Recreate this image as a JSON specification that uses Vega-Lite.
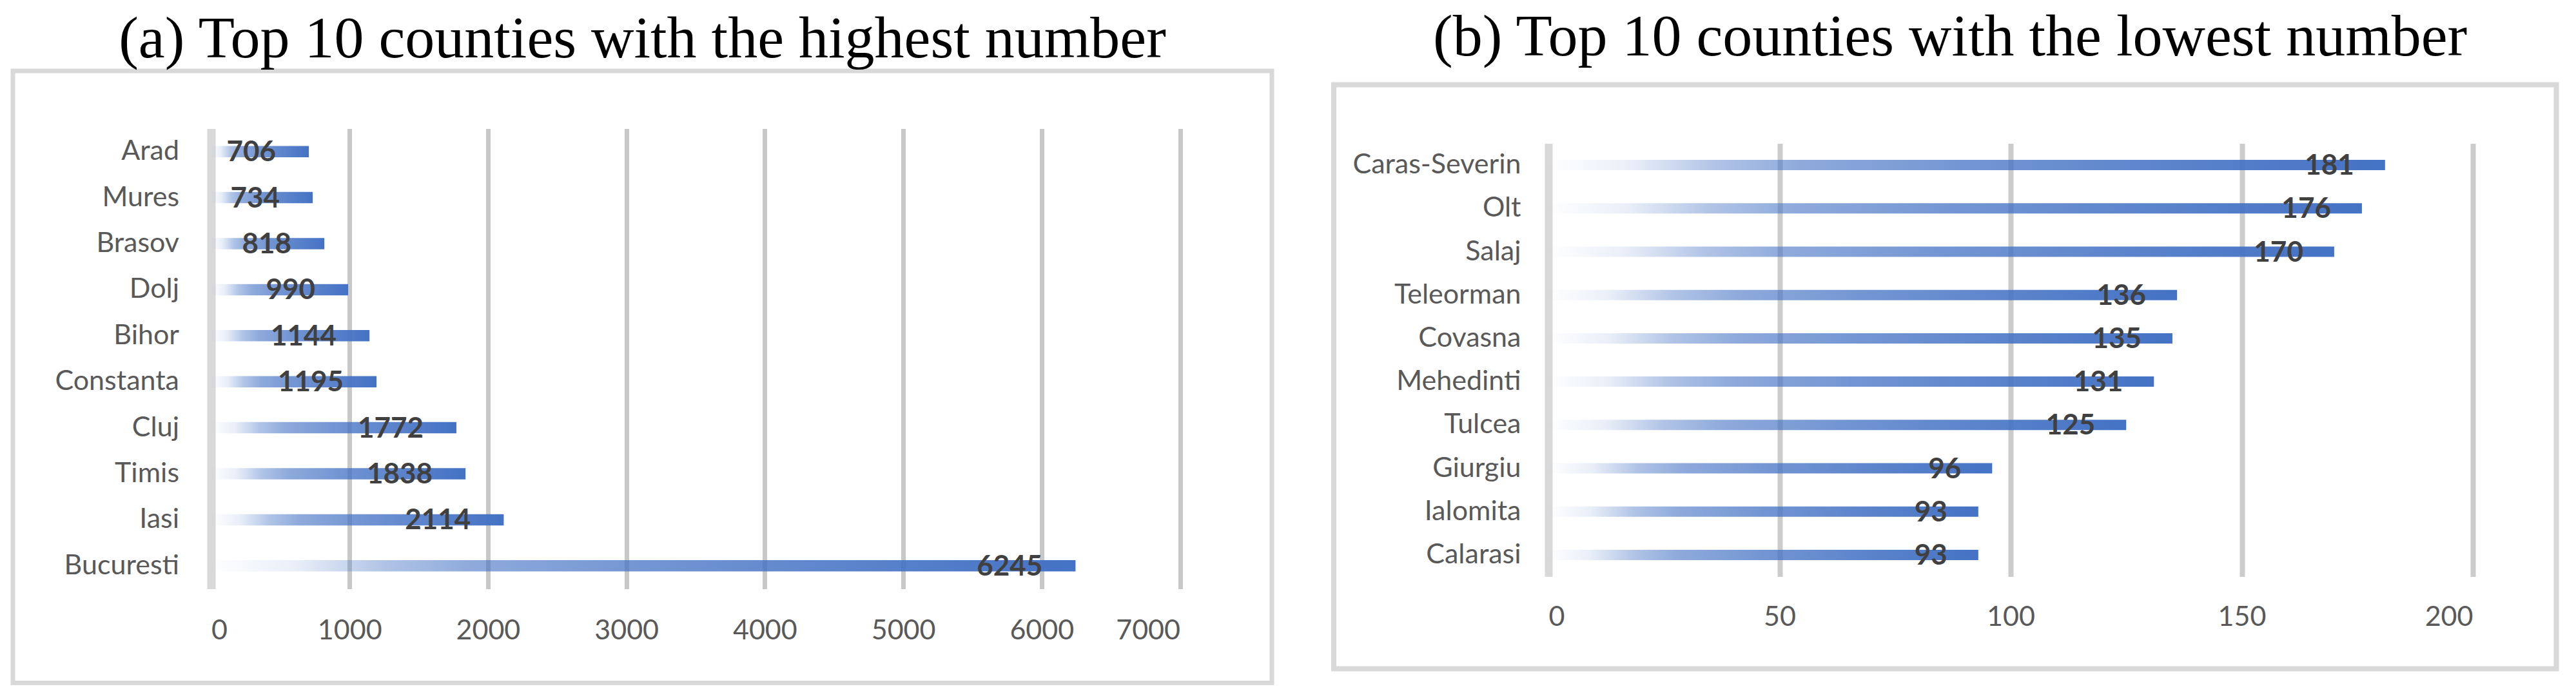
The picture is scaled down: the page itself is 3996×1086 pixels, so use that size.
{
  "$schema": "https://vega.github.io/schema/vega-lite/v6.json",
  "background": "white",
  "autosize": {"type": "pad"},
  "padding": {"left": 16, "top": 11, "right": 0, "bottom": 0},
  "spacing": 88,
  "datasets": {
    "top": [
      {"county": "Arad", "v": 706},
      {"county": "Mures", "v": 734},
      {"county": "Brasov", "v": 818},
      {"county": "Dolj", "v": 990},
      {"county": "Bihor", "v": 1144},
      {"county": "Constanta", "v": 1195},
      {"county": "Cluj", "v": 1772},
      {"county": "Timis", "v": 1838},
      {"county": "Iasi", "v": 2114},
      {"county": "Bucuresti", "v": 6245}
    ],
    "low": [
      {"county": "Caras-Severin", "v": 181},
      {"county": "Olt", "v": 176},
      {"county": "Salaj", "v": 170},
      {"county": "Teleorman", "v": 136},
      {"county": "Covasna", "v": 135},
      {"county": "Mehedinti", "v": 131},
      {"county": "Tulcea", "v": 125},
      {"county": "Giurgiu", "v": 96},
      {"county": "Ialomita", "v": 93},
      {"county": "Calarasi", "v": 93}
    ]
  },
  "hconcat": [
    {
      "width": 1953,
      "height": 949.5,
      "view": {"stroke": "#d9d9d9", "strokeWidth": 7, "fill": "white"},
      "title": {"text": "(a) Top 10 counties with the highest number", "font": "Liberation Serif", "fontSize": 92, "fontWeight": "normal", "color": "#000000", "anchor": "middle", "frame": "group", "offset": 2},
      "data": {"name": "top"},
      "encoding": {
        "y": {
          "field": "county", "type": "nominal", "sort": null,
          "scale": {"range": [89.5, 803.5], "paddingInner": 0.755, "paddingOuter": 0.3775},
          "axis": {"title": null, "orient": "left", "offset": -307.5, "labelPadding": 50, "ticks": false, "tickSize": 0, "grid": false, "domain": true, "domainColor": "#d9d9d9", "domainWidth": 13, "labelFont": "Lato", "labelFontSize": 43, "labelColor": "#595959", "labelLimit": 0}
        }
      },
      "layer": [
        {
          "mark": {"type": "bar", "color": {"gradient": "linear", "x1": 0, "y1": 0, "x2": 1, "y2": 0, "stops": [
            {"offset": 0, "color": "rgba(68,114,196,0)"},
            {"offset": 0.1, "color": "rgba(68,114,196,0.12)"},
            {"offset": 0.2, "color": "rgba(68,114,196,0.42)"},
            {"offset": 0.3, "color": "rgba(68,114,196,0.6)"},
            {"offset": 0.5, "color": "rgba(68,114,196,0.75)"},
            {"offset": 0.75, "color": "rgba(68,114,196,0.88)"},
            {"offset": 1, "color": "rgba(68,114,196,1)"}
          ]}},
          "encoding": {
            "x": {
              "field": "v", "type": "quantitative",
              "scale": {"domain": [0, 7000], "range": [307.5, 1810.5], "nice": false, "zero": true},
              "axis": {"orient": "top", "title": null, "labels": false, "ticks": false, "domain": false, "grid": true, "values": [0, 1000, 2000, 3000, 4000, 5000, 6000, 7000], "gridColor": {"condition": {"test": "datum.value === 0", "value": "rgba(0,0,0,0)"}, "value": "#c8c8c8"}, "gridWidth": 7}
            }
          }
        },
        {
          "mark": {"type": "text", "align": "right", "baseline": "middle", "dx": -51, "dy": 2, "font": "Lato", "fontSize": 44, "fontWeight": "bold", "color": "#404040"},
          "encoding": {
            "x": {
              "field": "v", "type": "quantitative",
              "scale": {"domain": [0, 7000], "range": [307.5, 1810.5], "nice": false, "zero": true},
              "axis": {"orient": "bottom", "title": null, "offset": -146, "labelPadding": 44, "ticks": false, "tickSize": 0, "domain": false, "grid": false, "values": [0, 1000, 2000, 3000, 4000, 5000, 6000, 7000], "format": "d", "labelFont": "Lato", "labelFontSize": 43, "labelColor": "#595959"}
            },
            "text": {"field": "v", "type": "quantitative", "format": "d"}
          }
        }
      ]
    },
    {
      "title": {"text": "(b) Top 10 counties with the lowest number", "font": "Liberation Serif", "fontSize": 92, "fontWeight": "normal", "color": "#000000", "anchor": "start", "dx": 154, "frame": "group", "offset": 5.5},
      "spacing": 16.5,
      "vconcat": [
        {
          "width": 1896.5,
          "height": 1,
          "data": {"values": []},
          "mark": {"type": "point", "opacity": 0},
          "view": {"stroke": null, "fill": null}
        },
        {
          "width": 1896.5,
          "height": 906,
          "view": {"stroke": "#d9d9d9", "strokeWidth": 8, "fill": "white"},
          "data": {"name": "low"},
          "encoding": {
            "y": {
              "field": "county", "type": "nominal", "sort": null,
              "scale": {"range": [91, 763], "paddingInner": 0.762, "paddingOuter": 0.381},
              "axis": {"title": null, "orient": "left", "offset": -333, "labelPadding": 43, "ticks": false, "tickSize": 0, "grid": false, "domain": true, "domainColor": "#d9d9d9", "domainWidth": 12, "labelFont": "Lato", "labelFontSize": 43, "labelColor": "#595959", "labelLimit": 0}
            }
          },
          "layer": [
            {
              "mark": {"type": "bar", "color": {"gradient": "linear", "x1": 0, "y1": 0, "x2": 1, "y2": 0, "stops": [
                {"offset": 0, "color": "rgba(68,114,196,0)"},
                {"offset": 0.1, "color": "rgba(68,114,196,0.12)"},
                {"offset": 0.2, "color": "rgba(68,114,196,0.42)"},
                {"offset": 0.3, "color": "rgba(68,114,196,0.6)"},
                {"offset": 0.5, "color": "rgba(68,114,196,0.75)"},
                {"offset": 0.75, "color": "rgba(68,114,196,0.88)"},
                {"offset": 1, "color": "rgba(68,114,196,1)"}
              ]}},
              "encoding": {
                "x": {
                  "field": "v", "type": "quantitative",
                  "scale": {"domain": [0, 200], "range": [333, 1767], "nice": false, "zero": true},
                  "axis": {"orient": "top", "title": null, "labels": false, "ticks": false, "domain": false, "grid": true, "values": [0, 50, 100, 150, 200], "gridColor": {"condition": {"test": "datum.value === 0", "value": "rgba(0,0,0,0)"}, "value": "#cccccc"}, "gridWidth": 8}
                }
              }
            },
            {
              "mark": {"type": "text", "align": "right", "baseline": "middle", "dx": -48, "dy": 2, "font": "Lato", "fontSize": 44, "fontWeight": "bold", "color": "#404040"},
              "encoding": {
                "x": {
                  "field": "v", "type": "quantitative",
                  "scale": {"domain": [0, 200], "range": [333, 1767], "nice": false, "zero": true},
                  "axis": {"orient": "bottom", "title": null, "offset": -143, "labelPadding": 42, "ticks": false, "tickSize": 0, "domain": false, "grid": false, "values": [0, 50, 100, 150, 200], "format": "d", "labelFont": "Lato", "labelFontSize": 43, "labelColor": "#595959"}
                },
                "text": {"field": "v", "type": "quantitative", "format": "d"}
              }
            }
          ]
        }
      ]
    }
  ]
}
